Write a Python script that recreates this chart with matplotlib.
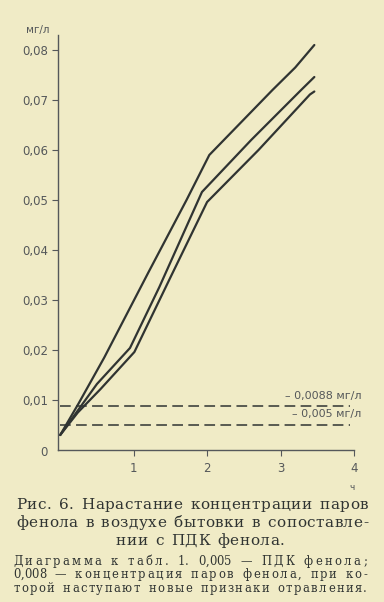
import matplotlib

matplotlib.use("Agg")
import matplotlib.pyplot as plt

# hours vs concentration (mg/l), three measurement series
upper_x = [0.0, 0.25, 0.6, 1.2, 1.72, 2.03, 2.89, 3.2, 3.46]
upper_y = [0.003, 0.0093, 0.0185, 0.0355, 0.050, 0.059, 0.072, 0.0765, 0.081]
middle_x = [0.0, 0.22, 0.5, 0.95, 1.35, 1.93, 2.6, 3.28, 3.46]
middle_y = [0.003, 0.0075, 0.0132, 0.0204, 0.0326, 0.0516, 0.062, 0.072, 0.0746]
lower_x = [0.0, 0.24, 0.55, 1.01, 1.5, 2.0, 2.7, 3.4, 3.46]
lower_y = [0.003, 0.0075, 0.0122, 0.0196, 0.0345, 0.0496, 0.060, 0.0711, 0.0717]

pdk = 0.005
poison = 0.0088
yticks = [0.01, 0.02, 0.03, 0.04, 0.05, 0.06, 0.07, 0.08]
ytick_labels = ["0,01", "0,02", "0,03", "0,04", "0,05", "0,06", "0,07", "0,08"]
xticks = [1, 2, 3, 4]

caption_main = [
    "Рис. 6. Нарастание концентрации паров",
    "фенола в воздухе бытовки в сопоставле-",
    "нии с ПДК фенола.",
]
caption_note = [
    "Диаграмма к табл. 1. 0,005 — ПДК фенола;",
    "0,008 — концентрация паров фенола, при ко-",
    "торой наступают новые признаки отравления.",
]

BG = "#F0EBC6"
INK = "#303432"
GREY = "#55585a"
SERIF = "DejaVu Serif"

fig = plt.figure(figsize=(3.84, 6.02), dpi=100, facecolor=BG)
ax = fig.add_axes([58 / 384, 152 / 602, 296 / 384, 415 / 602], facecolor=BG)

for xs, ys in [(upper_x, upper_y), (middle_x, middle_y), (lower_x, lower_y)]:
    ax.plot(xs, ys, color=INK, lw=1.6, solid_capstyle="round")

for level in (poison, pdk):
    ax.plot([0, 3.95], [level, level], color=INK, lw=1.1, dashes=(7, 3.5))

ax.set_xlim(-0.03, 4.0)
ax.set_ylim(0, 0.083)
ax.spines[["top", "right"]].set_visible(False)
for s in ("left", "bottom"):
    ax.spines[s].set_color(GREY)
    ax.spines[s].set_linewidth(1.0)

ax.set_yticks(yticks, ytick_labels)
ax.set_xticks(xticks, [str(t) for t in xticks])
ax.tick_params(direction="out", length=4, width=0.8, colors=GREY,
               labelsize=8.5, labelcolor=GREY)
ax.tick_params(axis="x", pad=5)
ax.tick_params(axis="y", pad=3)

ax.text(-0.22, -0.0005, "0", fontsize=8.5, color=GREY, ha="center", va="center")
ax.text(-0.3, 0.084, "мг/л", fontsize=7.5, color=GREY, ha="center", va="center",
        clip_on=False)
ax.text(3.97, -0.0076, "ч", fontsize=6.5, color=GREY, ha="center", va="center",
        clip_on=False)
ax.text(4.1, poison + 0.0021, "– 0,0088 мг/л", fontsize=8, color=GREY,
        ha="right", va="center", clip_on=False)
ax.text(4.1, pdk + 0.0023, "– 0,005 мг/л", fontsize=8, color=GREY,
        ha="right", va="center", clip_on=False)

# captions: letter-spaced and justified, placed character by character
renderer = fig.canvas.get_renderer()


def char_width(ch, size):
    t = fig.text(0, 0, ch, fontsize=size, family=SERIF)
    w = t.get_window_extent(renderer).width
    t.remove()
    return w


def put_line(line, base_px, size, left, right, word_gap, justify=True, track=None):
    words = line.split(" ")
    widths = [[char_width(c, size) for c in w] for w in words]
    # numbers and dashes are set without letter spacing
    spaced = [not any(c.isdigit() or c == "—" for c in w) for w in words]
    em = size * 100 / 72
    n_letters = sum(len(w) - 1 for w, s in zip(words, spaced) if s)
    n_gaps = len(words) - 1
    natural = sum(sum(w) for w in widths)
    if justify:
        track = (right - left - natural - n_gaps * word_gap * em) / (n_letters + n_gaps)
        x = left
    else:
        total = natural + n_letters * track + n_gaps * (word_gap * em + track)
        x = (left + right) / 2 - total / 2
    gap = word_gap * em + track
    for word, ws, sp in zip(words, widths, spaced):
        for c, w in zip(word, ws):
            fig.text(x / 384, 1 - base_px / 602, c, fontsize=size, color=INK,
                     family=SERIF, va="baseline")
            x += w + (track if sp else 0)
        x += gap - (track if sp else 0)
    return track


tr = put_line(caption_main[0], 509, 11, 16, 368, 0.45)
put_line(caption_main[1], 527, 11, 16, 368, 0.45)
put_line(caption_main[2], 545, 11, 60, 340, 0.45, justify=False, track=tr)
put_line(caption_note[0], 565, 8.3, 13, 367, 0.6)
put_line(caption_note[1], 578, 8.3, 13, 367, 0.6)
put_line(caption_note[2], 592, 8.3, 13, 367, 0.6)

fig.savefig("out.png", dpi=100, facecolor=BG)
